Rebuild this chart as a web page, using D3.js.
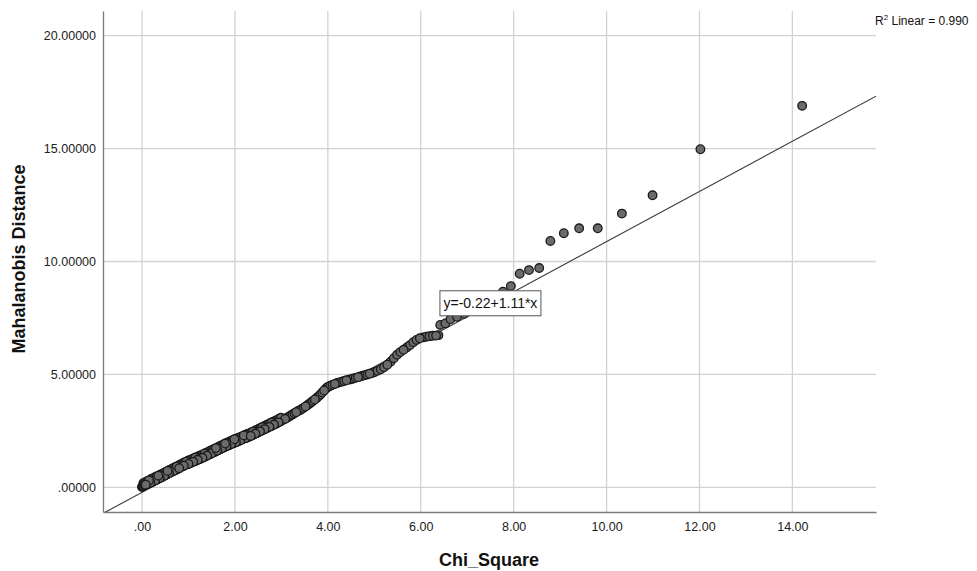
<!DOCTYPE html>
<html>
<head>
<meta charset="utf-8">
<script src="https://cdn.jsdelivr.net/npm/d3@7"></script>
<style>
  body { margin: 0; background: #fff; }
  svg { display: block; font-family: "Liberation Sans", Arial, sans-serif; }
</style>
</head>
<body>
<svg id="chart" width="977" height="571"></svg>
<script>
// Q-Q points [chi-square quantile, Mahalanobis distance]
const qqPoints = [
  [0.00,0.02],[0.01,0.04],[0.02,0.06],[0.04,0.08],[0.06,0.10],[0.08,0.12],[0.10,0.13],[0.12,0.15],[0.14,0.17],[0.16,0.19],
  [0.18,0.21],[0.20,0.23],[0.22,0.25],[0.24,0.27],[0.26,0.29],[0.28,0.31],[0.30,0.33],[0.32,0.35],[0.34,0.37],[0.36,0.39],
  [0.38,0.41],[0.40,0.43],[0.42,0.45],[0.44,0.47],[0.46,0.50],[0.48,0.52],[0.50,0.54],[0.52,0.56],[0.54,0.58],[0.56,0.61],
  [0.58,0.63],[0.60,0.65],[0.62,0.67],[0.64,0.69],[0.66,0.71],[0.68,0.73],[0.70,0.75],[0.72,0.77],[0.74,0.79],[0.76,0.81],
  [0.78,0.83],[0.80,0.85],[0.82,0.88],[0.84,0.90],[0.86,0.92],[0.88,0.94],[0.90,0.96],[0.92,0.98],[0.94,1.00],[0.96,1.02],
  [0.98,1.03],
  [1.00,1.04],[1.02,1.06],[1.04,1.08],[1.06,1.10],[1.08,1.11],[1.10,1.13],[1.12,1.15],[1.14,1.17],[1.16,1.18],[1.18,1.20],
  [1.20,1.22],[1.22,1.24],[1.24,1.26],[1.26,1.27],[1.28,1.29],[1.30,1.31],[1.32,1.33],[1.34,1.35],[1.36,1.37],[1.38,1.39],
  [1.40,1.41],[1.42,1.43],[1.44,1.45],[1.46,1.47],[1.48,1.49],[1.50,1.51],[1.52,1.53],[1.54,1.55],[1.56,1.57],[1.58,1.59],
  [1.60,1.61],[1.62,1.63],[1.64,1.65],[1.66,1.67],[1.68,1.69],[1.70,1.71],[1.72,1.73],[1.74,1.75],[1.76,1.77],[1.78,1.79],
  [1.80,1.81],[1.82,1.83],[1.84,1.84],[1.86,1.86],[1.88,1.88],[1.90,1.90],[1.92,1.92],[1.94,1.94],[1.96,1.95],[1.98,1.97],
  [2.00,1.99],[2.02,2.00],[2.04,2.02],[2.06,2.03],[2.08,2.05],[2.10,2.07],[2.12,2.09],[2.14,2.11],[2.16,2.13],[2.18,2.15],
  [2.20,2.17],[2.22,2.18],[2.24,2.19],[2.26,2.21],[2.28,2.22],[2.30,2.24],[2.32,2.26],[2.34,2.28],[2.36,2.30],[2.38,2.32],
  [2.40,2.34],[2.42,2.36],[2.44,2.38],[2.46,2.40],[2.48,2.42],[2.50,2.44],[2.52,2.46],[2.54,2.48],[2.56,2.50],[2.58,2.52],
  [2.60,2.54],[2.62,2.56],[2.64,2.58],[2.66,2.60],[2.68,2.62],[2.70,2.64],[2.72,2.66],[2.74,2.68],[2.76,2.70],[2.78,2.72],
  [2.80,2.74],[2.82,2.76],[2.84,2.78],[2.86,2.80],[2.88,2.82],[2.90,2.84],[2.92,2.86],[2.94,2.88],[2.96,2.91],[2.98,2.93],
  [3.00,2.95],[3.04,2.99],[3.08,3.03],[3.12,3.08],[3.16,3.13],[3.20,3.18],[3.24,3.23],[3.28,3.28],[3.32,3.33],[3.36,3.38],
  [3.40,3.42],[3.44,3.47],[3.48,3.52],[3.52,3.58],[3.56,3.64],[3.60,3.70],[3.64,3.76],[3.68,3.83],[3.72,3.89],[3.76,3.96],
  [3.80,4.03],[3.84,4.11],[3.88,4.20],[3.92,4.29],[3.96,4.38],
  [4.00,4.45],[4.05,4.50],[4.10,4.54],[4.15,4.58],[4.20,4.62],[4.25,4.65],[4.30,4.68],[4.35,4.71],[4.40,4.74],[4.45,4.77],
  [4.50,4.79],[4.55,4.82],[4.60,4.85],[4.65,4.88],[4.70,4.91],[4.75,4.94],[4.80,4.97],[4.85,5.00],[4.90,5.03],[4.95,5.06],
  [5.00,5.10],[5.07,5.16],[5.14,5.23],[5.21,5.32],[5.28,5.43],[5.35,5.56],[5.42,5.72],[5.49,5.87],[5.56,5.99],[5.63,6.09],
  [5.70,6.19],[5.77,6.30],[5.84,6.43],[5.91,6.53],[5.98,6.60],
  [6.05,6.64],[6.12,6.67],[6.19,6.69],[6.26,6.71],[6.33,6.72],[6.38,6.74],
  [6.42,7.19],[6.53,7.26],[6.64,7.44],[6.78,7.55],[6.93,7.68],[7.10,7.85],[7.30,8.05],[7.50,8.30],[7.77,8.66],
  [7.94,8.91],[8.13,9.46],[8.33,9.62],[8.55,9.71],[8.79,10.91],[9.08,11.25],[9.41,11.47],[9.81,11.47],
  [10.33,12.12],[10.99,12.93],[12.02,14.97],[14.21,16.89],
  // upper edge of the thick band below 3
  [0.03,0.19],[0.07,0.23],[0.11,0.27],[0.15,0.31],[0.19,0.36],[0.23,0.40],[0.27,0.44],[0.31,0.48],[0.35,0.52],[0.39,0.56],
  [0.43,0.60],[0.47,0.64],[0.51,0.68],[0.55,0.73],[0.59,0.77],[0.63,0.81],[0.67,0.85],[0.71,0.89],[0.75,0.93],[0.79,0.97],
  [0.83,1.02],[0.87,1.06],[0.91,1.10],[0.95,1.14],[0.99,1.18],[1.03,1.21],[1.07,1.25],[1.11,1.28],[1.15,1.32],[1.19,1.35],
  [1.23,1.39],[1.27,1.42],[1.31,1.46],[1.35,1.50],[1.39,1.54],[1.43,1.58],[1.47,1.62],[1.51,1.66],[1.55,1.70],[1.59,1.74],
  [1.63,1.78],[1.67,1.82],[1.71,1.86],[1.75,1.90],[1.79,1.94],[1.83,1.98],[1.87,2.01],[1.91,2.05],[1.95,2.09],[1.99,2.13],
  [2.03,2.16],[2.07,2.19],[2.11,2.22],[2.15,2.26],[2.19,2.30],[2.23,2.33],[2.27,2.36],[2.31,2.39],[2.35,2.43],[2.39,2.47],
  [2.43,2.51],[2.47,2.55],[2.51,2.59],[2.55,2.63],[2.59,2.67],[2.63,2.71],[2.67,2.75],[2.71,2.79],[2.75,2.83],[2.79,2.87],
  [2.83,2.91],[2.87,2.95],[2.91,2.99],[2.95,3.04],[2.99,3.08]
];

const xTicks = [0, 2, 4, 6, 8, 10, 12, 14];
const yTicks = [0, 5, 10, 15, 20];

// fit line
const intercept = -0.22;
const slope = 1.11;
const rSquared = 0.990;
const fitLabelAt = [7.5, 8.15];

const svg = d3.select('#chart');
const plotLeft = 103, plotRight = 876, plotTop = 11, plotBottom = 512;

let xScale = d3.scaleLinear().domain([-0.84, 15.8]).range([plotLeft, plotRight]);
let yScale = d3.scaleLinear().domain([-1.09, 21.09]).range([plotBottom, plotTop]);

svg.append('defs').append('clipPath').attr('id', 'plotClip')
  .append('rect')
  .attr('x', plotLeft).attr('y', plotTop)
  .attr('width', plotRight - plotLeft).attr('height', plotBottom - plotTop);

// grid
let grid = svg.append('g');
grid.selectAll('line.vg').data(xTicks).enter().append('line')
  .attr('x1', d => xScale(d)).attr('x2', d => xScale(d))
  .attr('y1', plotTop).attr('y2', plotBottom)
  .attr('stroke', '#d2d2d2').attr('stroke-width', 1.3);
grid.selectAll('line.hg').data(yTicks).enter().append('line')
  .attr('x1', plotLeft).attr('x2', plotRight)
  .attr('y1', d => yScale(d)).attr('y2', d => yScale(d))
  .attr('stroke', '#d2d2d2').attr('stroke-width', 1.3);

// axes (labels only, no tick marks)
let xAxis = d3.axisBottom(xScale).tickValues(xTicks).tickSize(0).tickPadding(10)
  .tickFormat(d => d === 0 ? '.00' : d3.format('.2f')(d));
svg.append('g')
  .attr('transform', `translate(0, ${plotBottom})`)
  .call(xAxis)
  .call(g => g.select('.domain').attr('stroke', '#7a7a7a').attr('stroke-width', 1.3))
  .selectAll('text')
  .attr('font-size', '12.5px').attr('fill', '#222')
  .attr('font-family', '"Liberation Sans", Arial, sans-serif');

let yAxis = d3.axisLeft(yScale).tickValues(yTicks).tickSize(0).tickPadding(7)
  .tickFormat(d => d === 0 ? '.00000' : d3.format('.5f')(d));
svg.append('g')
  .attr('transform', `translate(${plotLeft}, 0)`)
  .call(yAxis)
  .call(g => g.select('.domain').attr('stroke', '#7a7a7a').attr('stroke-width', 1.3))
  .selectAll('text')
  .attr('font-size', '12.5px').attr('fill', '#222')
  .attr('font-family', '"Liberation Sans", Arial, sans-serif');

// regression line
let xd = xScale.domain();
svg.append('line')
  .attr('clip-path', 'url(#plotClip)')
  .attr('x1', xScale(xd[0])).attr('y1', yScale(intercept + slope * xd[0]))
  .attr('x2', xScale(xd[1])).attr('y2', yScale(intercept + slope * xd[1]))
  .attr('stroke', '#3a3a3a').attr('stroke-width', 1.1);

// points: drawn in an interleaved (not sorted) order, like case order in the data file,
// so the rings in the dense part overlap the way they do in the original
let n = qqPoints.length;
let drawOrder = d3.range(n).sort((a, b) => ((a * 61) % n) - ((b * 61) % n));
svg.append('g').selectAll('circle')
  .data(drawOrder.map(i => qqPoints[i]))
  .enter().append('circle')
  .attr('cx', d => xScale(d[0]))
  .attr('cy', d => yScale(d[1]))
  .attr('r', 4.3)
  .attr('fill', '#6b6b6b')
  .attr('stroke', '#1a1a1a')
  .attr('stroke-width', 1.3);

// equation label box
let fx = xScale(fitLabelAt[0]), fy = yScale(fitLabelAt[1]);
let fitLabel = svg.append('g');
fitLabel.append('rect')
  .attr('x', fx - 50.5).attr('y', fy - 12.5)
  .attr('width', 101).attr('height', 25)
  .attr('fill', '#fff').attr('stroke', '#555').attr('stroke-width', 1);
fitLabel.append('text')
  .attr('x', fx).attr('y', fy + 5)
  .attr('text-anchor', 'middle')
  .attr('font-size', '14px').attr('fill', '#111')
  .text(`y=${intercept}+${slope}*x`);

// R squared note
let r2 = svg.append('text')
  .attr('x', 875).attr('y', 25)
  .attr('font-size', '12px').attr('fill', '#111');
r2.append('tspan').text('R');
r2.append('tspan').attr('font-size', '8px').attr('dy', -5).text('2');
r2.append('tspan').attr('dy', 5).text(` Linear = ${rSquared.toFixed(3)}`);

// axis titles
svg.append('text')
  .attr('x', 489).attr('y', 566)
  .attr('text-anchor', 'middle')
  .attr('font-size', '18px').attr('font-weight', 'bold').attr('fill', '#111')
  .text('Chi_Square');

svg.append('text')
  .attr('transform', 'translate(25, 259) rotate(-90)')
  .attr('text-anchor', 'middle')
  .attr('font-size', '18px').attr('font-weight', 'bold').attr('fill', '#111')
  .text('Mahalanobis Distance');
</script>
</body>
</html>
